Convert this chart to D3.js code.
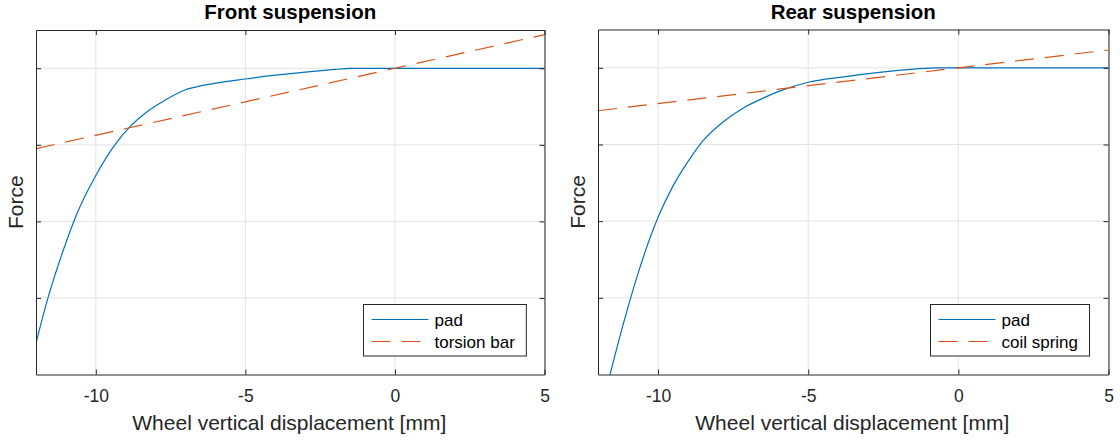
<!DOCTYPE html>
<html>
<head>
<meta charset="utf-8">
<script src="https://cdn.jsdelivr.net/npm/d3@7"></script>
<style>
  html, body { margin: 0; padding: 0; background: #fff; }
  svg { display: block; font-family: "Liberation Sans", Arial, Helvetica, sans-serif; }
</style>
</head>
<body>
<svg id="chart" width="1120" height="442"></svg>
<script>
// Axis ticks (y ticks carry no labels)
const xTicks = [-10, -5, 0, 5];
const yTicks = [-3, -2, -1, 0];
const xDomain = [-12, 5];
const yDomain = [-4, 0.5];

// Front suspension: pad force and torsion bar force vs wheel displacement
const frontPadX     = [-12, -11.6, -11.1, -10.6, -10.0, -9.4, -8.85, -8.3, -7.7, -7.0, -6.5, -6.0, -5.0, -4.0, -3.0, -2.0, -1.5, 0, 5];
const frontPadForce = [-3.59, -3.0, -2.39, -1.87, -1.40, -1.02, -0.76, -0.57, -0.42, -0.28, -0.23, -0.195, -0.14, -0.09, -0.05, -0.015, 0, 0, 0];
const torsionX      = [-12, 0, 5];
const torsionForce  = [-1.05, 0, 0.44];

// Rear suspension: pad force and coil spring force vs wheel displacement
const rearPadX      = [-12, -11.6, -11.15, -10.6, -10.0, -9.5, -8.95, -8.5, -7.85, -7.1, -6.5, -6.0, -5.0, -3.75, -2.55, -1.4, -0.7, 0, 5];
const rearPadForce  = [-4.62, -4.0, -3.33, -2.60, -1.95, -1.54, -1.19, -0.95, -0.71, -0.51, -0.395, -0.31, -0.188, -0.114, -0.057, -0.013, 0, 0, 0];
const coilX         = [-12, 0, 5];
const coilForce     = [-0.56, 0, 0.233];

const padColor = "#0072BD";
const springColor = "#D95319";
const axisColor = "#262626";
const gridColor = "#e3e3e3";
const dash = "19,11";

const svg = d3.select("#chart");

const panels = [
  {
    title: "Front suspension",
    box: { left: 36, right: 544.5, top: 30, bottom: 374.5 },
    series: [
      { name: "pad", x: frontPadX, y: frontPadForce, color: padColor, dash: null },
      { name: "torsion bar", x: torsionX, y: torsionForce, color: springColor, dash: dash }
    ]
  },
  {
    title: "Rear suspension",
    box: { left: 598, right: 1108.5, top: 29.5, bottom: 374.5 },
    series: [
      { name: "pad", x: rearPadX, y: rearPadForce, color: padColor, dash: null },
      { name: "coil spring", x: coilX, y: coilForce, color: springColor, dash: dash }
    ]
  }
];

panels.forEach((p, i) => {
  const b = p.box;
  const x = d3.scaleLinear().domain(xDomain).range([b.left, b.right]);
  const y = d3.scaleLinear().domain(yDomain).range([b.bottom, b.top]);
  const g = svg.append("g");

  const clipId = "clip" + i;
  svg.append("defs").append("clipPath").attr("id", clipId)
    .append("rect").attr("x", b.left).attr("y", b.top)
    .attr("width", b.right - b.left).attr("height", b.bottom - b.top);

  // grid
  g.append("g").selectAll("line").data(xTicks).join("line")
    .attr("x1", d => x(d)).attr("x2", d => x(d))
    .attr("y1", b.top).attr("y2", b.bottom)
    .attr("stroke", gridColor).attr("stroke-width", 1);
  g.append("g").selectAll("line").data(yTicks).join("line")
    .attr("x1", b.left).attr("x2", b.right)
    .attr("y1", d => y(d)).attr("y2", d => y(d))
    .attr("stroke", gridColor).attr("stroke-width", 1);

  // data lines
  const plot = g.append("g").attr("clip-path", `url(#${clipId})`);
  p.series.forEach(s => {
    const pts = s.x.map((v, k) => [v, s.y[k]]);
    const line = d3.line().x(d => x(d[0])).y(d => y(d[1])).curve(d3.curveMonotoneX);
    plot.append("path").datum(pts)
      .attr("d", line)
      .attr("fill", "none")
      .attr("stroke", s.color)
      .attr("stroke-width", 1.2)
      .attr("stroke-dasharray", s.dash);
  });

  // axes (box with inward ticks on all sides)
  const tickLen = -5;
  const bottomAxis = d3.axisBottom(x).tickValues(xTicks).tickSizeInner(tickLen).tickSizeOuter(0).tickPadding(18).tickFormat(d => String(d));
  const topAxis = d3.axisTop(x).tickValues(xTicks).tickSizeInner(tickLen).tickSizeOuter(0).tickFormat("");
  const leftAxis = d3.axisLeft(y).tickValues(yTicks).tickSizeInner(tickLen).tickSizeOuter(0).tickFormat("");
  const rightAxis = d3.axisRight(y).tickValues(yTicks).tickSizeInner(tickLen).tickSizeOuter(0).tickFormat("");

  const styleAxis = sel => {
    sel.selectAll(".domain").attr("stroke", axisColor).attr("stroke-width", 1);
    sel.selectAll(".tick line").attr("stroke", axisColor).attr("stroke-width", 1);
    sel.selectAll(".tick text").attr("fill", axisColor)
      .style("font-size", "17.5px").style("font-family", "Liberation Sans, Arial, sans-serif");
  };
  g.append("g").attr("transform", `translate(0,${b.bottom})`).call(bottomAxis).call(styleAxis)
    .selectAll(".tick text").attr("dy", null).attr("y", 27);
  g.append("g").attr("transform", `translate(0,${b.top})`).call(topAxis).call(styleAxis);
  g.append("g").attr("transform", `translate(${b.left},0)`).call(leftAxis).call(styleAxis);
  g.append("g").attr("transform", `translate(${b.right},0)`).call(rightAxis).call(styleAxis);

  const cx = (b.left + b.right) / 2;
  const cy = (b.top + b.bottom) / 2;

  // title
  g.append("text").attr("x", cx).attr("y", 19)
    .attr("text-anchor", "middle").attr("font-weight", "bold")
    .attr("font-size", 20.5).attr("fill", "#000").text(p.title);

  // axis labels
  g.append("text").attr("x", cx - 1).attr("y", 430)
    .attr("text-anchor", "middle").attr("font-size", 21).attr("fill", axisColor)
    .text("Wheel vertical displacement [mm]");
  g.append("text")
    .attr("transform", `translate(${b.left - 13},${cy}) rotate(-90)`)
    .attr("text-anchor", "middle").attr("font-size", 21).attr("fill", axisColor)
    .text("Force");

  // legend
  const lg = g.append("g");
  const rows = p.series.map((s, k) => {
    const t = lg.append("text").attr("font-size", 17).attr("fill", "#000").text(s.name);
    return { s, t, k };
  });
  const maxW = d3.max(rows, r => r.t.node().getComputedTextLength());
  const boxW = 71 + maxW + 11.5;
  const boxX = Math.round(b.right - 19 - boxW) + 0.5;
  const boxY = 304.5, boxH = 51.5;
  lg.insert("rect", ":first-child")
    .attr("x", boxX).attr("y", boxY).attr("width", boxW).attr("height", boxH)
    .attr("fill", "#fff").attr("stroke", axisColor).attr("stroke-width", 1);
  rows.forEach(r => {
    const ly = boxY + 15 + r.k * 22;
    lg.append("line")
      .attr("x1", boxX + 8).attr("x2", boxX + 65)
      .attr("y1", ly).attr("y2", ly)
      .attr("stroke", r.s.color).attr("stroke-width", 1.2)
      .attr("stroke-dasharray", r.s.dash);
    r.t.attr("x", boxX + 71).attr("y", ly + 6);
  });
});
</script>
</body>
</html>
